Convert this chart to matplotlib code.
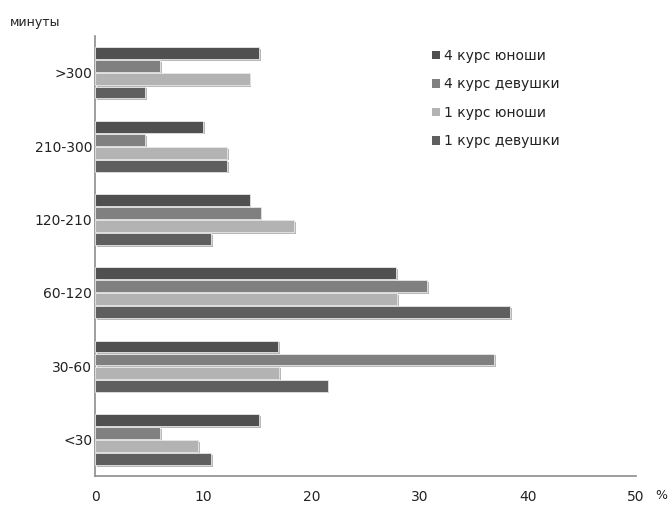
import numpy as np
import matplotlib.pyplot as plt
import matplotlib.patheffects as pe

# Data (percent)
categories = ["<30", "30-60", "60-120", "120-210", "210-300", ">300"]
series_names = ["4 курс юноши", "4 курс девушки", "1 курс юноши", "1 курс девушки"]
boys_4 = [15.2, 16.9, 27.8, 14.3, 10.0, 15.2]
girls_4 = [6.0, 36.9, 30.7, 15.3, 4.6, 6.0]
boys_1 = [9.5, 17.0, 27.9, 18.4, 12.2, 14.3]
girls_1 = [10.7, 21.5, 38.4, 10.7, 12.2, 4.6]
colors = ["#505050", "#808080", "#b3b3b3", "#5f5f5f"]

values = [boys_4, girls_4, boys_1, girls_1]

fig = plt.figure(figsize=(6.71, 5.09), dpi=100)
ax = fig.add_axes([0.1416, 0.0648, 0.806, 0.864])

y = np.arange(len(categories))
slot = 0.178
shadow = [pe.SimplePatchShadow(offset=(1.3, -1.3), shadow_rgbFace="0.72", alpha=1.0), pe.Normal()]

for i, (name, vals, col) in enumerate(zip(series_names, values, colors)):
    bars = ax.barh(y + (1.5 - i) * slot, vals, height=0.162, color=col,
                   edgecolor="#e8e8e8", linewidth=0.6, label=name, zorder=3)
    for b in bars:
        b.set_path_effects(shadow)

ax.set_xlim(0, 50)
ax.set_ylim(-0.5, 5.5)
ax.set_yticks(y)
ax.set_yticklabels(categories)
ax.set_xticks([0, 10, 20, 30, 40, 50])
ax.tick_params(length=0, labelsize=10, labelcolor="#222222")
ax.tick_params(axis="x", pad=10)
ax.tick_params(axis="y", pad=2)

for s in ["top", "right"]:
    ax.spines[s].set_visible(False)
for s in ["left", "bottom"]:
    ax.spines[s].set_color("#8c8c8c")
    ax.spines[s].set_linewidth(1.2)

fig.text(0.015, 0.955, "минуты", fontsize=9, color="#222222", va="center")
fig.text(0.986, 0.027, "%", fontsize=9, color="#222222", ha="center", va="center")

leg = ax.legend(loc="upper left", bbox_to_anchor=(0.6, 1.0), frameon=False,
                fontsize=10, handlelength=0.55, handleheight=0.55, handletextpad=0.3,
                labelspacing=1.05, labelcolor="#222222")
for h in leg.legend_handles:
    h.set_edgecolor("none")
    h.set_path_effects([])

fig.savefig("out.png", dpi=100)
